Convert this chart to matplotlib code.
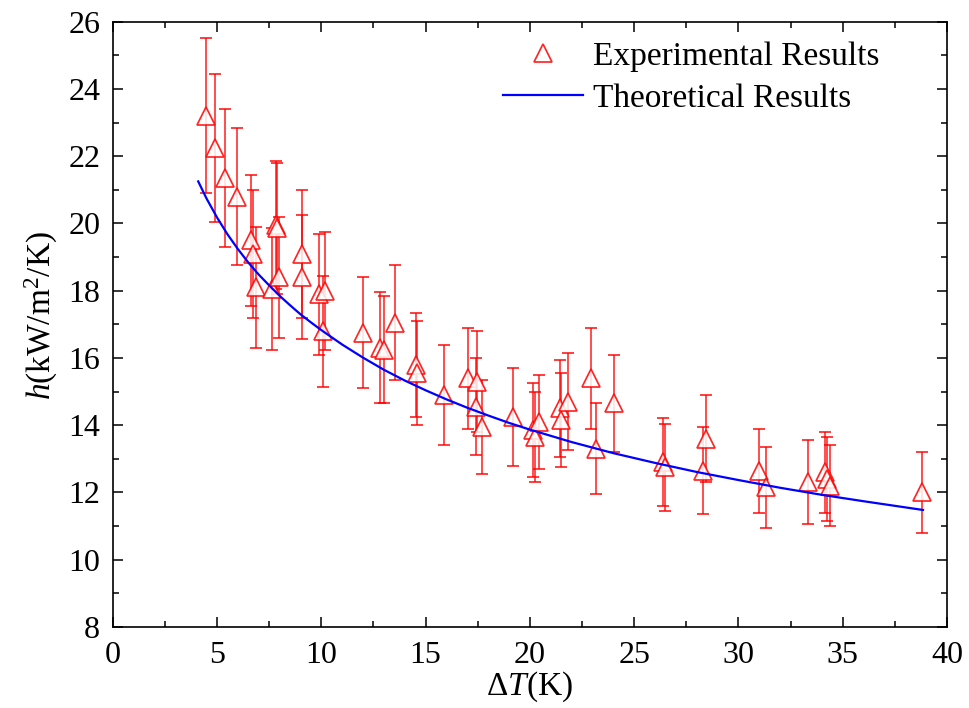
import matplotlib
matplotlib.use("Agg")
import matplotlib.pyplot as plt
from matplotlib.ticker import MultipleLocator
from matplotlib.lines import Line2D

plt.rcParams["font.family"] = ["Liberation Serif", "DejaVu Serif"]
plt.rcParams["mathtext.fontset"] = "custom"
plt.rcParams["mathtext.rm"] = "Liberation Serif"
plt.rcParams["mathtext.it"] = "Liberation Serif:italic"

# experimental points
dT = [4.45, 4.9, 5.4, 5.95, 6.65, 6.75, 6.85, 7.65, 7.85, 7.9, 7.95, 9.1, 9.1,
      9.9, 10.2, 10.1, 12.0, 12.8, 13.0, 13.55, 14.55, 14.6, 15.9, 17.05, 17.45,
      17.4, 17.7, 19.2, 20.15, 20.25, 20.45, 21.45, 21.5, 21.85, 22.95, 23.15,
      24.05, 26.4, 26.5, 28.45, 28.3, 31.0, 31.3, 33.35, 34.15, 34.25, 34.4, 38.8]
h_exp = [23.2, 22.25, 21.35, 20.8, 19.5, 19.1, 18.1, 18.05, 19.95, 19.85, 18.4,
         19.1, 18.4, 17.9, 18.0, 16.8, 16.75, 16.3, 16.25, 17.05, 15.8, 15.55,
         14.9, 15.4, 15.3, 14.55, 13.95, 14.25, 13.85, 13.65, 14.1, 14.5, 14.15,
         14.7, 15.4, 13.3, 14.65, 12.9, 12.75, 13.6, 12.65, 12.65, 12.15, 12.3,
         12.6, 12.4, 12.2, 12.0]
h_err = [2.3, 2.2, 2.05, 2.05, 1.95, 1.9, 1.8, 1.8, 1.9, 1.95, 1.8, 1.9, 1.85,
         1.8, 1.75, 1.65, 1.65, 1.65, 1.6, 1.7, 1.55, 1.55, 1.5, 1.5, 1.5, 1.45,
         1.4, 1.45, 1.4, 1.35, 1.4, 1.45, 1.4, 1.45, 1.5, 1.35, 1.45, 1.3, 1.3,
         1.3, 1.3, 1.25, 1.2, 1.25, 1.2, 1.25, 1.2, 1.2]

# theoretical curve (sampled off the figure)
dT_theory = [4.1, 4.5, 5, 5.5, 6, 6.5, 7, 7.5, 8, 8.5, 9, 9.5, 10, 11, 12, 13,
             14, 15, 16, 17, 18, 19, 20, 22, 24, 26, 28, 30, 32, 34, 36, 38.85]
h_theory = [21.25, 20.74, 20.18, 19.68, 19.24, 18.84, 18.48, 18.16, 17.85,
            17.57, 17.30, 17.06, 16.83, 16.40, 16.01, 15.65, 15.33, 15.04,
            14.77, 14.52, 14.29, 14.07, 13.87, 13.50, 13.17, 12.88, 12.61,
            12.37, 12.14, 11.93, 11.74, 11.48]

fig = plt.figure(figsize=(9.69, 7.08), dpi=100)
ax = fig.add_axes([0.1163, 0.1144, 0.861, 0.855])

ax.errorbar(dT, h_exp, yerr=h_err, fmt="^", color="red", ecolor="red",
            elinewidth=1.15, capsize=4.5, capthick=1.15, markersize=13,
            markerfacecolor="white", markeredgecolor="red", markeredgewidth=1.25,
            alpha=0.85, zorder=2)
line, = ax.plot(dT_theory, h_theory, color="blue", lw=1.6, zorder=3)

ax.set_xlim(0, 40)
ax.set_ylim(8, 26)
ax.xaxis.set_major_locator(MultipleLocator(5))
ax.xaxis.set_minor_locator(MultipleLocator(2.5))
ax.yaxis.set_major_locator(MultipleLocator(2))
ax.yaxis.set_minor_locator(MultipleLocator(1))
ax.tick_params(which="both", direction="in", top=True, right=True, width=1.1,
               labelsize=23)
ax.tick_params(axis="x", which="major", pad=10)
ax.tick_params(axis="y", which="major", pad=9)
ax.tick_params(which="major", length=7)
ax.tick_params(which="minor", length=4)
for s in ax.spines.values():
    s.set_linewidth(1.2)

ax.set_xlabel(r"$\Delta T$(K)", fontsize=24, labelpad=0)
ax.set_ylabel(r"$h$(kW/m$^2$/K)", fontsize=24)
ax.yaxis.set_label_coords(-0.063, 0.515)

h_marker = Line2D([], [], marker="^", ls="none", color="red", markersize=13,
                  markerfacecolor="white", markeredgewidth=1.25, alpha=0.85)
ax.legend([h_marker, line], ["Experimental Results", "Theoretical Results"],
          loc="upper left", bbox_to_anchor=(0.468, 0.967), frameon=False,
          fontsize=24, handlelength=2.4, handletextpad=0.3,
          labelspacing=0.33, borderaxespad=0, borderpad=0)

fig.savefig("out.png", dpi=100)
